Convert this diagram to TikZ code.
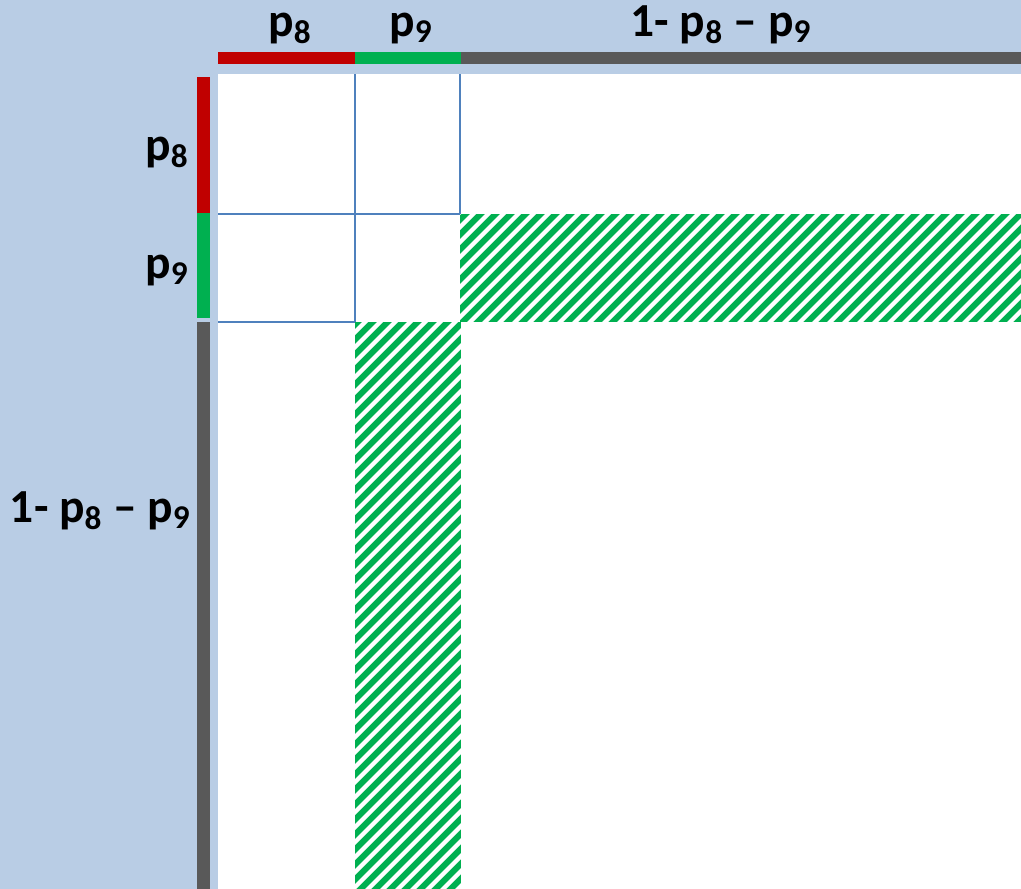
\documentclass[tikz,border=0pt]{standalone}
\usepackage{fontspec}
\setmainfont{Carlito}
\usetikzlibrary{positioning}
\definecolor{bgblue}{HTML}{B9CDE5}
\definecolor{barred}{HTML}{C00000}
\definecolor{bargreen}{HTML}{00B050}
\definecolor{bargray}{HTML}{595959}
\definecolor{gridblue}{HTML}{4F81BD}

\begin{document}
\begin{tikzpicture}[x=0.02cm,y=-0.02cm,
        lbl/.style={font=\fontsize{27}{31}\selectfont\bfseries,inner sep=0pt},
        bar/.style={line width=0.25cm},
        gridline/.style={draw=gridblue,line width=0.7pt},
        hatchline/.style={white,line width=0.085cm}]
        % page and white square
        \fill[bgblue] (0,0) rectangle (1021,889);
        \useasboundingbox (0,0) rectangle (1021,889);
        \coordinate (tl) at (218,74);
        \coordinate (br) at (1021,889);
        \fill[white] (tl) rectangle (br);
        % hatched bands
        \begin{scope}
            \clip (460,214) rectangle (1021,322);
            \fill[bargreen] (460,214) rectangle (1021,322);
            \foreach \c in {672,687,...,1350}
                \draw[hatchline] (\c-330,330) -- (\c-205,205);
        \end{scope}
        \begin{scope}
            \clip (355,322) rectangle (461,889);
            \fill[bargreen] (355,322) rectangle (461,889);
            \foreach \c in {672,687,...,1365}
                \draw[hatchline] (\c-900,900) -- (\c-310,310);
        \end{scope}
        % grid
        \draw[gridline] (355,74) -- (355,322);
        \draw[gridline] (460,74) -- (460,214);
        \draw[gridline] (218,214) -- (460,214);
        \draw[gridline] (218,322) -- (355,322);
        % top bar
        \draw[bar,barred] (218,58) -- (355,58);
        \draw[bar,bargreen] (355,58) -- (461,58);
        \draw[bar,bargray] (461,58) -- (1021,58);
        % left bar
        \draw[bar,barred] (203.5,77) -- (203.5,213);
        \draw[bar,bargreen] (203.5,213) -- (203.5,318);
        \draw[bar,bargray] (203.5,322) -- (203.5,889);
        % labels
        \node[lbl,anchor=base] (top8) at (290,36) {p\textsubscript{8}};
        \node[lbl,anchor=base] (top9) at (411,36) {p\textsubscript{9}};
        \node[lbl,anchor=base] (toprest) at (721,36) {1- p\textsubscript{8} – p\textsubscript{9}};
        \node[lbl,anchor=base east] (left8) at (189,160) {p\textsubscript{8}};
        \node[lbl,anchor=base east] (left9) at (189,278) {p\textsubscript{9}};
        \node[lbl,anchor=base east] (leftrest) at (191,522) {1- p\textsubscript{8} – p\textsubscript{9}};
    \end{tikzpicture}
\end{document}
